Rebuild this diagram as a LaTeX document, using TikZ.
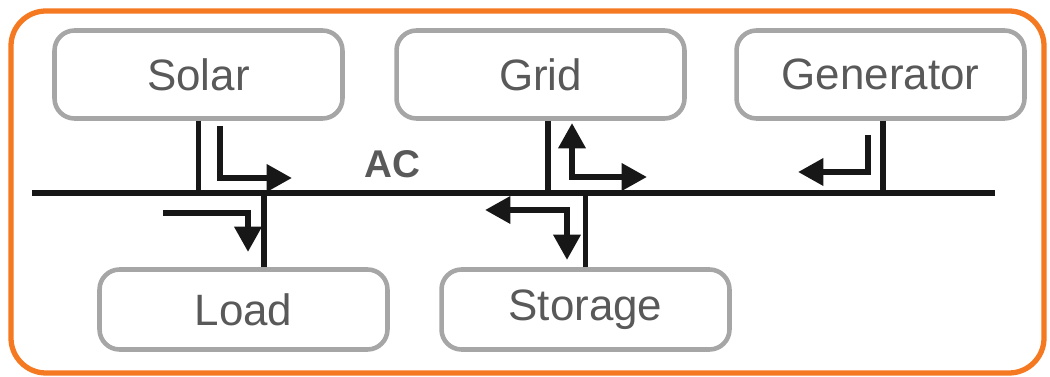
\documentclass[tikz,border=0pt]{standalone}
\usepackage{fontspec}
\setmainfont{Liberation Sans}
\usetikzlibrary{arrows.meta}
\definecolor{frameorange}{RGB}{244,121,32}
\definecolor{boxgray}{RGB}{166,166,166}
\definecolor{textgray}{RGB}{89,89,89}
\definecolor{lineblack}{RGB}{23,23,23}
\begin{document}
\begin{tikzpicture}[x=0.02cm,y=-0.02cm,
    unit/.style={draw=boxgray,line width=2.6pt,rounded corners=0.4cm,minimum width=5.76cm,inner sep=0pt,text=textgray,font=\fontsize{25}{30}\selectfont},
    bus/.style={draw=lineblack,line width=3.4pt},
    flow/.style={draw=lineblack,line width=3.4pt,-{Triangle[length=14.5pt,width=15pt]}},
    flows/.style={flow,{Triangle[length=14.5pt,width=15pt]}-{Triangle[length=14.5pt,width=15pt]}}]
    \useasboundingbox (0,0) rectangle (1050,377);
    
    % keret
    \draw[frameorange,line width=3pt,rounded corners=0.7cm] (11,11) rectangle (1044,373);
    
    % egysegek
    \node[unit,minimum height=1.76cm] (solar) at (198.5,74.5) {Solar};
    \node[unit,minimum height=1.76cm] (grid) at (540.5,74.5) {Grid};
    \node[unit,minimum height=1.76cm] (gen) at (880.5,74.5) {Generator};
    \node[unit,minimum height=1.6cm] (load) at (243.5,309.5) {Load};
    \node[unit,minimum height=1.6cm] (storage) at (585.5,309.5) {Storage};
    
    % sin
    \coordinate (busL) at (32,193);
    \coordinate (busR) at (995,193);
    \draw[bus] (busL) -- (busR);
    \node[text=textgray,font=\bfseries\fontsize{22}{26}\selectfont] (ac) at (392,164) {AC};
    
    % leagazasok
    \coordinate (gridtap) at ([xshift=0.15cm]grid.south);
    \coordinate (gentap) at ([xshift=0.05cm]gen.south);
    \coordinate (loadtap) at ([xshift=0.41cm]load.north);
    \draw[bus] (solar.south) -- (solar.south |- busL);
    \draw[bus] (gridtap) -- (gridtap |- busL);
    \draw[bus] (gentap) -- (gentap |- busL);
    \draw[bus] (loadtap) -- (loadtap |- busL);
    \draw[bus] (storage.north) -- (storage.north |- busL);
    
    % iranyok
    \draw[flow] (220,126) -- (220,178) -- (292,178);
    \draw[flow] (163,213) -- (248,213) -- (248,252);
    \draw[flows] (572,123) -- (572,177) -- (647,177);
    \draw[flows] (485,210) -- (567,210) -- (567,260);
    \draw[flow] (868,135) -- (868,172) -- (798,172);
\end{tikzpicture}
\end{document}
